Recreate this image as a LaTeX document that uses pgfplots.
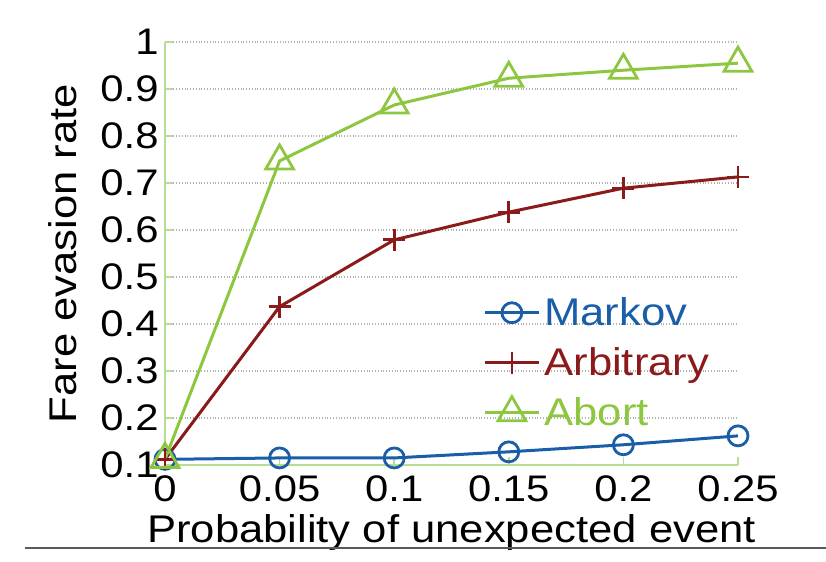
\documentclass[border=0pt]{standalone}
\usepackage{fontspec}
\setmainfont[FakeStretch=1.13]{Liberation Sans}
\usepackage{pgfplots}
\pgfplotsset{compat=1.18}
\definecolor{mblue}{HTML}{1A5EA8}
\definecolor{ared}{HTML}{8B1A1A}
\definecolor{agreen}{HTML}{8DC63F}
\definecolor{spine}{HTML}{B8DC92}
\begin{document}
\begin{tikzpicture}
\path[use as bounding box] (-82.5pt,-48.5pt) rectangle (330.5pt,232.5pt);
\begin{axis}[
  at={(0,0)}, anchor=origin,
  scale only axis, width=286.5pt, height=211.5pt,
  xmin=0, xmax=0.25, ymin=0.1, ymax=1,
  xtick={0,0.05,0.1,0.15,0.2,0.25},
  xticklabels={0,0.05,0.1,0.15,0.2,0.25},
  ytick={0.1,0.2,...,1.0},
  yticklabels={0.1,0.2,0.3,0.4,0.5,0.6,0.7,0.8,0.9,1},
  axis x line*=bottom, axis y line*=left,
  axis line style={spine, line width=0.8pt, -},
  tick style={spine, line width=0.8pt},
  tick align=inside, major tick length=4pt,
  ymajorgrids, grid style={densely dotted, gray!60, line width=0.6pt},
  /pgf/number format/assume math mode=true,
  tick label style={font=\fontsize{18.5}{22}\selectfont, black},
  xticklabel style={inner sep=2pt, yshift=-3pt},
  yticklabel style={inner sep=3pt},
  label style={font=\fontsize{19.3}{23}\selectfont},
  xlabel={Probability of unexpected event},
  ylabel={Fare evasion rate},
  xlabel style={at={(axis description cs:0.5,-0.184)}, anchor=base},
  ylabel style={at={(axis description cs:-0.178,0.5)}, anchor=center},
  legend style={at={(0.555,0.407)}, anchor=north west, draw=none, fill=none,
    inner sep=0pt, font=\fontsize{19.3}{23}\selectfont, row sep=5.5pt,
    nodes={inner sep=2pt}},
  legend cell align=left,
  legend image code/.code={\draw[mark repeat=2,mark phase=2] plot coordinates {(0pt,0pt) (13.5pt,0pt) (27pt,0pt)};},
  clip=false,
]
\addplot[mblue, line width=1.5pt, mark=o, mark size=5pt, mark options={line width=1.4pt}]
  coordinates {(0,0.112) (0.05,0.115) (0.1,0.115) (0.15,0.128) (0.2,0.143) (0.25,0.162)};
\addlegendentry{\color{mblue}Markov}
\addplot[ared, line width=1.5pt, mark=+, mark size=5.5pt, mark options={line width=1.4pt}]
  coordinates {(0,0.112) (0.05,0.437) (0.1,0.579) (0.15,0.638) (0.2,0.689) (0.25,0.713)};
\addlegendentry{\color{ared}Arbitrary}
\addplot[agreen, line width=1.5pt, mark=triangle, mark size=8pt, mark options={line width=1.4pt}]
  coordinates {(0,0.112) (0.05,0.747) (0.1,0.866) (0.15,0.923) (0.2,0.940) (0.25,0.955)};
\addlegendentry{\color{agreen}Abort}
\end{axis}
\draw[black!65, line width=0.9pt] (-70pt,-41.5pt) -- (330.5pt,-41.5pt);
\end{tikzpicture}
\end{document}
